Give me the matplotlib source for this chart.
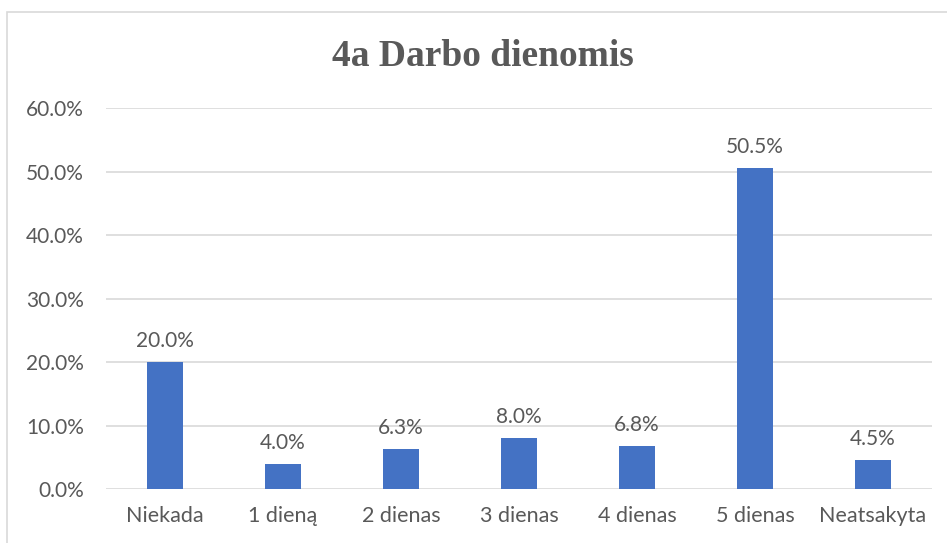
import matplotlib
matplotlib.use("Agg")
import matplotlib.pyplot as plt
from matplotlib.patches import Rectangle
from matplotlib.ticker import PercentFormatter

# data
categories = ["Niekada", "1 dieną", "2 dienas", "3 dienas", "4 dienas", "5 dienas", "Neatsakyta"]
values = [0.200, 0.040, 0.063, 0.080, 0.068, 0.505, 0.045]
yticks = [0.0, 0.1, 0.2, 0.3, 0.4, 0.5, 0.6]

txt = "#595959"
plt.rcParams['font.family'] = ['Lato', 'DejaVu Sans']

fig = plt.figure(figsize=(9.47, 5.43), dpi=100)
ax = fig.add_axes([0.112, 0.0994, 0.872, 0.7016])

# light frame of the chart area
fig.patches.append(Rectangle((7/947, -0.2), 1.5, 1.2 - 12/543, transform=fig.transFigure,
                             fill=False, edgecolor="#d9d9d9", linewidth=1.2))

x = range(len(categories))
bars = ax.bar(x, values, width=0.31, color="#4472C4", zorder=3)
for b, v in zip(bars, values):
    ax.annotate(f"{v*100:.1f}%", (b.get_x() + b.get_width()/2, v), xytext=(0, 8),
                textcoords="offset points", ha="center", va="bottom", fontsize=15, color=txt)

ax.set_xlim(-0.5, len(categories) - 0.5)
ax.set_ylim(0, 0.6)
ax.set_yticks(yticks)
ax.yaxis.set_major_formatter(PercentFormatter(1.0, decimals=1))
ax.set_xticks(list(x))
ax.set_xticklabels(categories)
ax.tick_params(axis="both", length=0, labelsize=15, labelcolor=txt)
ax.tick_params(axis="x", pad=12, labelsize=15.5)
ax.tick_params(axis="y", pad=16)
ax.grid(axis="y", color="#d9d9d9", linewidth=1.2, zorder=0)
for s in ax.spines.values():
    s.set_visible(False)

fig.text(0.51, 1 - 66/543, "4a Darbo dienomis", ha="center", va="baseline",
         fontsize=27, fontweight="bold", family=["Liberation Serif"], color=txt)

fig.savefig("out.png", dpi=100)
